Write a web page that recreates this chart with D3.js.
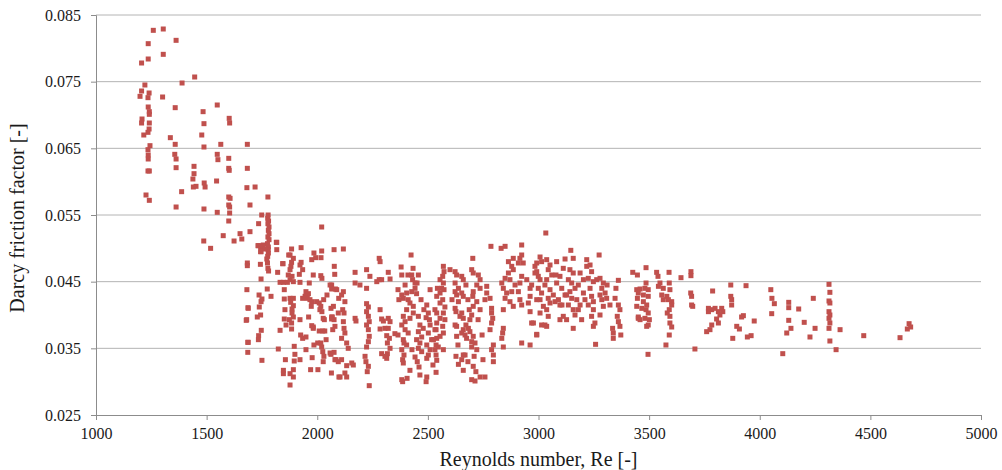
<!DOCTYPE html>
<html>
<head>
<meta charset="utf-8">
<script src="https://cdn.jsdelivr.net/npm/d3@7"></script>
<style>
  html, body { margin: 0; padding: 0; background: #fff; }
  svg { display: block; }
  .tick text { font-family: "Liberation Serif", "Times New Roman", serif; font-size: 16px; fill: #1a1a1a; }
  .title { font-family: "Liberation Serif", "Times New Roman", serif; font-size: 20px; fill: #1a1a1a; }
</style>
</head>
<body>
<svg id="chart" width="1002" height="470"></svg>
<script>
// Axis ticks
const xTicks = [1000, 1500, 2000, 2500, 3000, 3500, 4000, 4500, 5000];
const yTicks = [0.025, 0.035, 0.045, 0.055, 0.065, 0.075, 0.085];

// Measured points [Reynolds number, Darcy friction factor], grouped by Re range
const points1200to1660 = [
  [1259,0.0827],[1304,0.0829],[1236,0.0807],[1362,0.0812],[1206,0.0778],[1236,0.0784],[1304,0.0791],
  [1446,0.0757],[1389,0.0748],[1221,0.0745],[1206,0.0736],[1240,0.0733],[1199,0.0728],[1235,0.0726],
  [1301,0.0727],[1236,0.0712],[1358,0.0711],[1548,0.0715],[1241,0.0705],[1241,0.0701],[1484,0.0705],
  [1208,0.0694],[1206,0.0688],[1241,0.0688],[1488,0.0687],[1240,0.0679],[1235,0.0674],[1216,0.0670],
  [1478,0.0670],[1336,0.0666],[1244,0.0654],[1358,0.0656],[1488,0.0652],[1564,0.0656],[1235,0.0648],
  [1236,0.0640],[1236,0.0634],[1356,0.0641],[1362,0.0634],[1548,0.0641],[1551,0.0633],[1362,0.0621],
  [1443,0.0623],[1235,0.0616],[1241,0.0616],[1443,0.0612],[1438,0.0604],[1489,0.0598],[1545,0.0601],
  [1440,0.0592],[1452,0.0593],[1493,0.0592],[1226,0.0580],[1241,0.0572],[1387,0.0585],[1362,0.0562],
  [1488,0.0559],[1548,0.0554],[1575,0.0519],[1624,0.0511],[1487,0.0511],[1518,0.0500],[1651,0.0522],
  [1659,0.0514],
  [1602,0.0695],[1604,0.0688],[1600,0.0635],[1600,0.0620],[1602,0.0617],[1600,0.0577],[1606,0.0575],
  [1600,0.0565],[1604,0.0562],[1604,0.0553],[1600,0.0541]
];

const points1660to2100 = [
  [1684,0.0656],[1684,0.0620],[1682,0.0591],[1696,0.0565],[1696,0.0525],[1684,0.0478],[1684,0.0474],
  [1682,0.0438],[1687,0.0411],[1679,0.0392],[1686,0.0359],[1686,0.0344],[1688,0.0410],
  [1719,0.0592],[1777,0.0577],[1735,0.0537],[1735,0.0504],[1746,0.0502],[1746,0.0495],[1815,0.0509],
  [1817,0.0498],[1743,0.0476],[1844,0.0477],[1871,0.0490],[1749,0.0550],
  [1778,0.0550],[1776,0.0545],[1780,0.0541],[1777,0.0537],[1782,0.0532],[1779,0.0527],[1782,0.0522],
  [1777,0.0517],[1782,0.0513],[1775,0.0507],[1779,0.0502],[1778,0.0498],[1779,0.0493],[1776,0.0488],
  [1775,0.0478],[1777,0.0470],[1772,0.0484],[1780,0.0466],
  [1732,0.0504],[1744,0.0503],[1744,0.0495],[1756,0.0505],[1764,0.0499],[1817,0.0509],
  [1884,0.0499],[1927,0.0501],[1877,0.0490],[1892,0.0485],[1884,0.0479],[1845,0.0477],[1881,0.0473],
  [1927,0.0479],[1922,0.0475],[1934,0.0468],[1975,0.0483],[1985,0.0493],[2020,0.0496],[2017,0.0486],
  [1993,0.0486],[2076,0.0498],[2077,0.0473],[2020,0.0532],
  [1821,0.0464],[1877,0.0468],[1869,0.0460],[1886,0.0458],[1877,0.0453],[1892,0.0450],[1847,0.0449],
  [1832,0.0449],[1865,0.0449],[1746,0.0454],[1919,0.0461],[1922,0.0449],[1964,0.0448],[1982,0.0460],
  [2016,0.0459],[2021,0.0455],[2065,0.0445],[2082,0.0439],
  [1737,0.0430],[1750,0.0424],[1746,0.0420],[1774,0.0439],[1791,0.0428],
  [1851,0.0438],[1851,0.0424],[1877,0.0425],[1892,0.0425],[1880,0.0419],[1892,0.0414],[1886,0.0409],
  [1886,0.0403],[1874,0.0393],[1892,0.0397],[1884,0.0388],
  [1949,0.0435],[1960,0.0432],[1945,0.0428],[1955,0.0425],[1967,0.0423],[1975,0.0420],[1934,0.0425],
  [1997,0.0420],[2009,0.0418],[2016,0.0413],[2012,0.0408],[2021,0.0405],[2029,0.0423],[2027,0.0395],
  [2032,0.0393],[1973,0.0413],[1961,0.0397],[1982,0.0382],[2062,0.0410],[2068,0.0397],[2065,0.0394],
  [2097,0.0425],[2095,0.0403],[2044,0.0430],[1922,0.0393],
  [1681,0.0393],[1738,0.0412],[1744,0.0400],[1729,0.0397],[1854,0.0408],[1851,0.0394],[1859,0.0385],
  [1832,0.0377],[1884,0.0379],[1925,0.0370],[1934,0.0365],[1949,0.0367],[1975,0.0384],[1982,0.0380],
  [2009,0.0376],[2025,0.0376],[2034,0.0376],[2002,0.0358],[2016,0.0358],[2020,0.0352],[2025,0.0345],
  [2030,0.0338],[2027,0.0330],[2062,0.0341],[2085,0.0333],[2095,0.0330],[2040,0.0363],
  [1747,0.0377],[1735,0.0369],[1734,0.0363],[1688,0.0359],[1824,0.0349],[1896,0.0353],[1899,0.0341],
  [1750,0.0332],[1856,0.0333],[1896,0.0331],[1977,0.0336],[1970,0.0318],[1949,0.0348],[1922,0.0333],
  [1985,0.0355],[2003,0.0318],
  [1847,0.0317],[1847,0.0312],[1877,0.0312],[1892,0.0318],[1892,0.0307],[1877,0.0295],
  [2064,0.0313],[2098,0.0307]
];

const points2100to2560 = [
  [2118,0.0499],[2079,0.0461],[2280,0.0485],[2284,0.0480],[2424,0.0490],
  [2171,0.0464],[2223,0.0468],[2238,0.0458],[2321,0.0464],[2329,0.0454],[2379,0.0472],[2382,0.0460],
  [2171,0.0448],[2193,0.0445],[2223,0.0440],[2269,0.0450],[2280,0.0453],[2291,0.0453],
  [2427,0.0460],[2457,0.0460],[2431,0.0453],[2442,0.0448],
  [2058,0.0445],[2065,0.0439],[2088,0.0438],[2118,0.0435],[2110,0.0430],[2125,0.0420],[2115,0.0408],
  [2121,0.0403],[2118,0.0390],[2121,0.0380],[2125,0.0373],[2110,0.0365],[2133,0.0358],[2140,0.0350],
  [2073,0.0413],[2065,0.0397],[2076,0.0393],[2080,0.0383],[2070,0.0378],[2171,0.0395],[2175,0.0391],
  [2223,0.0417],[2231,0.0412],[2223,0.0405],[2231,0.0398],[2235,0.0390],[2223,0.0385],[2231,0.0378],
  [2235,0.0368],[2231,0.0360],[2223,0.0352],
  [2284,0.0408],[2291,0.0394],[2299,0.0391],[2284,0.0379],[2306,0.0380],
  [2321,0.0395],[2329,0.0390],[2321,0.0380],[2314,0.0369],[2326,0.0365],[2317,0.0358],[2329,0.0350],
  [2317,0.0342],[2314,0.0335],[2351,0.0372],
  [2382,0.0430],[2389,0.0425],[2404,0.0433],[2411,0.0423],[2427,0.0435],[2442,0.0440],[2449,0.0432],
  [2419,0.0418],[2434,0.0413],[2404,0.0408],[2389,0.0398],[2397,0.0390],[2419,0.0395],[2434,0.0403],
  [2382,0.0385],[2397,0.0378],[2411,0.0373],[2389,0.0363],[2404,0.0355],[2382,0.0348],[2392,0.0340],
  [2386,0.0333],[2389,0.0328],[2382,0.0303],[2386,0.0300],
  [2365,0.0438],[2369,0.0423],[2397,0.0445],[2410,0.0460],[2433,0.0470],[2451,0.0448],[2469,0.0423],
  [2482,0.0408],[2492,0.0396],[2365,0.0370],[2392,0.0358],[2428,0.0348],[2442,0.0337],[2464,0.0310],
  [2492,0.0300],[2406,0.0305],[2523,0.0325],[2537,0.0314],
  [2457,0.0398],[2464,0.0385],[2479,0.0380],[2457,0.0375],[2472,0.0367],[2449,0.0363],[2464,0.0358],
  [2457,0.0350],[2472,0.0345],[2452,0.0330],[2460,0.0322],[2419,0.0317],
  [2495,0.0415],[2502,0.0403],[2507,0.0393],[2510,0.0385],[2502,0.0373],[2517,0.0363],[2495,0.0355],
  [2510,0.0348],[2502,0.0340],[2495,0.0335],[2495,0.0307],
  [2510,0.0438],[2543,0.0440],[2540,0.0403],[2537,0.0378],[2540,0.0365],[2547,0.0352],
  [2058,0.0343],[2076,0.0344],[2080,0.0333],[2110,0.0333],[2133,0.0324],[2125,0.0313],[2103,0.0307],
  [2133,0.0307],[2156,0.0328],[2163,0.0325],[2216,0.0338],[2220,0.0330],[2231,0.0323],[2226,0.0315],
  [2235,0.0294],[2291,0.0342],[2306,0.0338],
  [2570,0.0473],[2573,0.0465],[2567,0.0458],[2555,0.0453],[2570,0.0448],[2562,0.0440],[2555,0.0433],
  [2573,0.0438],[2540,0.0428],[2567,0.0423],[2555,0.0418],[2577,0.0412],[2532,0.0408],[2570,0.0403],
  [2555,0.0395],[2577,0.0393],[2540,0.0388],[2567,0.0383],[2532,0.0378],[2570,0.0373],[2555,0.0368],
  [2525,0.0363],[2537,0.0355],[2532,0.0348],[2537,0.0340],[2540,0.0332],[2570,0.0348]
];

const points2600to3100 = [
  [2785,0.0503],[2831,0.0500],[2849,0.0503],[2924,0.0505],[2703,0.0485],
  [2623,0.0465],[2630,0.0460],[2653,0.0458],[2660,0.0453],[2623,0.0448],[2638,0.0440],[2623,0.0435],
  [2630,0.0430],[2653,0.0433],[2660,0.0428],[2638,0.0420],[2623,0.0410],[2627,0.0405],[2653,0.0403],
  [2645,0.0398],[2660,0.0395],[2623,0.0385],[2630,0.0383],[2660,0.0378],[2653,0.0373],[2630,0.0368],
  [2627,0.0338],[2660,0.0340],[2653,0.0333],[2638,0.0326],[2660,0.0317],
  [2600,0.0468],[2609,0.0423],[2672,0.0445],[2681,0.0423],[2727,0.0393],[2745,0.0370],[2668,0.0340],
  [2681,0.0330],[2717,0.0315],[2749,0.0333],[2636,0.0355],[2758,0.0423],[2736,0.0408],
  [2698,0.0468],[2705,0.0463],[2728,0.0460],[2736,0.0453],[2721,0.0445],[2736,0.0440],[2705,0.0435],
  [2703,0.0428],[2721,0.0420],[2705,0.0413],[2687,0.0408],[2698,0.0400],[2690,0.0393],[2672,0.0385],
  [2683,0.0380],[2690,0.0375],[2668,0.0370],[2675,0.0365],[2705,0.0368],[2698,0.0360],[2713,0.0358],
  [2698,0.0352],[2721,0.0348],[2709,0.0338],[2705,0.0323],[2736,0.0307],[2698,0.0303],[2713,0.0301],
  [2758,0.0307],
  [2766,0.0443],[2766,0.0433],[2781,0.0425],[2788,0.0410],[2788,0.0403],[2793,0.0395],[2788,0.0388],
  [2781,0.0378],[2796,0.0355],[2788,0.0348],[2796,0.0340],[2796,0.0330],
  [2834,0.0448],[2849,0.0455],[2864,0.0463],[2871,0.0453],[2841,0.0440],[2856,0.0433],[2879,0.0435],
  [2894,0.0445],[2849,0.0425],[2871,0.0420],[2841,0.0408],[2886,0.0413],[2916,0.0448],[2909,0.0435],
  [2916,0.0423],[2924,0.0415],[2841,0.0380],[2838,0.0373],[2834,0.0365],[2841,0.0352],
  [2864,0.0480],[2879,0.0473],[2886,0.0485],[2909,0.0478],[2886,0.0468],[2916,0.0485],[2931,0.0478],
  [2924,0.0490],
  [2924,0.0458],[2947,0.0453],[2962,0.0440],[2969,0.0445],[2962,0.0428],[2954,0.0418],[2962,0.0405],
  [2969,0.0388],[2924,0.0358],[2962,0.0355],[2992,0.0370],[2984,0.0473],[2992,0.0465],[2999,0.0458],
  [3007,0.0423],[3007,0.0487],
  [3033,0.0523],[2992,0.0478],[3014,0.0480],[3037,0.0483],[3082,0.0480],
  [2984,0.0463],[3007,0.0453],[2999,0.0440],[3014,0.0433],[2992,0.0423],[3022,0.0413],[3007,0.0403],
  [2977,0.0388],[2992,0.0371],
  [3052,0.0475],[3044,0.0468],[3060,0.0460],[3037,0.0453],[3029,0.0445],[3052,0.0438],[3067,0.0430],
  [3044,0.0425],[3052,0.0418],[3037,0.0408],[3044,0.0398],[3029,0.0385],[3037,0.0383],[3014,0.0385],
  [3097,0.0458],[3082,0.0448],[3090,0.0423],[3097,0.0415],[3075,0.0420],[3079,0.0460],[3097,0.0393]
];

const points3100to3700 = [
  [3146,0.0497],[3274,0.0490],[3120,0.0484],[3157,0.0485],[3218,0.0483],[3233,0.0475],
  [3112,0.0470],[3105,0.0440],[3120,0.0430],[3106,0.0415],[3165,0.0400],[3210,0.0423],[3278,0.0400],
  [3310,0.0445],
  [3142,0.0468],[3157,0.0463],[3135,0.0453],[3150,0.0448],[3165,0.0440],[3142,0.0435],[3127,0.0430],
  [3150,0.0425],[3135,0.0415],[3157,0.0408],[3112,0.0398],[3127,0.0393],[3157,0.0380],[3195,0.0393],
  [3188,0.0463],[3203,0.0453],[3180,0.0445],[3203,0.0433],[3173,0.0423],[3188,0.0415],[3180,0.0408],
  [3218,0.0473],[3240,0.0465],[3225,0.0455],[3248,0.0450],[3233,0.0440],[3240,0.0428],[3248,0.0420],
  [3225,0.0415],[3248,0.0408],[3240,0.0398],[3255,0.0388],[3248,0.0383],[3258,0.0356],
  [3263,0.0453],[3278,0.0455],[3293,0.0448],[3286,0.0440],[3278,0.0430],[3301,0.0433],[3286,0.0423],
  [3308,0.0425],[3293,0.0413],[3323,0.0415],
  [3361,0.0452],[3350,0.0440],[3346,0.0425],[3361,0.0415],[3368,0.0408],[3356,0.0398],[3361,0.0390],
  [3368,0.0383],[3335,0.0380],[3338,0.0373],[3372,0.0370],[3338,0.0365],
  [3426,0.0464],[3447,0.0460],[3444,0.0438],[3447,0.0425],[3444,0.0413],[3451,0.0395],
  [3486,0.0471],[3534,0.0464],[3540,0.0458],[3590,0.0464],[3644,0.0456],[3689,0.0465],[3689,0.0459],
  [3486,0.0448],[3481,0.0440],[3459,0.0439],[3496,0.0438],[3451,0.0433],[3474,0.0430],[3496,0.0428],
  [3474,0.0420],[3489,0.0415],[3467,0.0410],[3486,0.0408],[3496,0.0403],[3481,0.0395],[3451,0.0397],
  [3459,0.0393],[3496,0.0385],[3489,0.0383],[3501,0.0393],[3495,0.0341],
  [3549,0.0448],[3542,0.0443],[3564,0.0440],[3591,0.0448],[3594,0.0438],[3557,0.0430],[3580,0.0428],
  [3564,0.0423],[3587,0.0423],[3602,0.0420],[3602,0.0415],[3591,0.0408],[3582,0.0403],[3594,0.0398],
  [3594,0.0388],[3602,0.0382],[3591,0.0370],[3576,0.0355],
  [3688,0.0433],[3692,0.0428],[3692,0.0415],[3697,0.0413],[3707,0.0349]
];

const points3700to4700 = [
  [3787,0.0436],[3768,0.0410],[3783,0.0408],[3798,0.0410],[3813,0.0405],[3828,0.0410],[3820,0.0400],
  [3805,0.0394],[3813,0.0388],[3783,0.0385],[3775,0.0378],[3760,0.0375],[3768,0.0405],[3833,0.0405],
  [3869,0.0445],[3869,0.0428],[3873,0.0423],[3873,0.0415],[3878,0.0365],[3896,0.0383],
  [3938,0.0444],[3926,0.0399],[3918,0.0397],[3975,0.0391],[3908,0.0379],[3944,0.0367],[3961,0.0369],
  [4050,0.0438],[4055,0.0425],[4066,0.0417],[4054,0.0402],
  [4131,0.0419],[4131,0.0411],[4176,0.0409],[4242,0.0425],[4201,0.0389],[4131,0.0392],[4141,0.0380],
  [4122,0.0373],[4250,0.0380],[4227,0.0367],[4104,0.0342],
  [4313,0.0446],[4317,0.0434],[4313,0.0421],[4317,0.0418],[4313,0.0405],[4317,0.0400],[4313,0.0395],
  [4317,0.0388],[4313,0.0380],[4317,0.0361],
  [4345,0.0348],[4363,0.0378],[4470,0.0369],[4634,0.0366],[4675,0.0387],[4682,0.0382],[4667,0.0379]
];

const data = [].concat(points1200to1660, points1660to2100, points2100to2560,
  points2600to3100, points3100to3700, points3700to4700);

const svg = d3.select("#chart");
const margin = { left: 96, right: 21, top: 15, bottom: 55 };
const width = 1002, height = 470;

const x = d3.scaleLinear().domain([1000, 5000]).range([margin.left, width - margin.right]);
const y = d3.scaleLinear().domain([0.025, 0.085]).range([height - margin.bottom, margin.top]);

// horizontal gridlines
svg.append("g")
  .selectAll("line")
  .data(yTicks.slice(1))
  .join("line")
  .attr("x1", margin.left).attr("x2", width - margin.right)
  .attr("y1", d => y(d)).attr("y2", d => y(d))
  .attr("stroke", "#b4b4b4").attr("stroke-width", 1);

// y axis
const yAxis = svg.append("g")
  .attr("transform", `translate(${margin.left},0)`)
  .call(d3.axisLeft(y).tickValues(yTicks).tickSize(5).tickPadding(10).tickFormat(d3.format(".3f")));
yAxis.select(".domain").attr("stroke", "#8c8c8c");
yAxis.selectAll(".tick line").attr("stroke", "#8c8c8c");

// x axis
const xAxis = svg.append("g")
  .attr("transform", `translate(0,${height - margin.bottom})`)
  .call(d3.axisBottom(x).tickValues(xTicks).tickSize(5).tickPadding(8).tickFormat(d3.format("d")));
xAxis.select(".domain").attr("stroke", "#8c8c8c");
xAxis.selectAll(".tick line").attr("stroke", "#8c8c8c");

// markers
const s = 5;
svg.append("g")
  .selectAll("rect")
  .data(data)
  .join("rect")
  .attr("x", d => x(d[0]) - s / 2)
  .attr("y", d => y(d[1]) - s / 2)
  .attr("width", s).attr("height", s)
  .attr("fill", "#c0504d");

// axis titles
svg.append("text")
  .attr("class", "title")
  .attr("x", (margin.left + width - margin.right) / 2)
  .attr("y", 466)
  .attr("text-anchor", "middle")
  .text("Reynolds number, Re [-]");

svg.append("text")
  .attr("class", "title")
  .attr("transform", `translate(24,218) rotate(-90)`)
  .attr("text-anchor", "middle")
  .text("Darcy friction factor [-]");
</script>
</body>
</html>
